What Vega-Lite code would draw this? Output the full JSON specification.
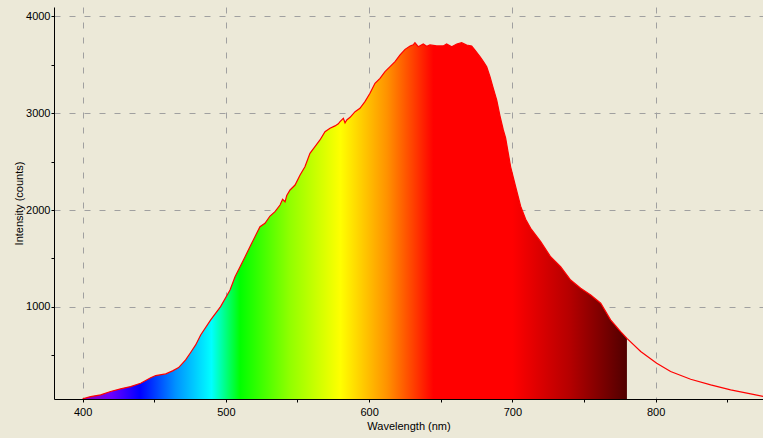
{
  "$schema": "https://vega.github.io/schema/vega-lite/v6.json",
  "width": 709,
  "height": 392,
  "autosize": {"type": "none"},
  "padding": {"left": 54, "top": 7, "right": 0, "bottom": 39},
  "background": "#ECE9D8",
  "config": {
    "view": {"stroke": null},
    "font": "Liberation Sans",
    "axis": {
      "domainColor": "#000000",
      "domainWidth": 1,
      "tickColor": "#000000",
      "tickSize": 3,
      "labelColor": "#000000",
      "labelFontSize": 11,
      "labelFont": "Liberation Sans",
      "titleFont": "Liberation Sans",
      "titleFontSize": 11,
      "titleFontWeight": "normal",
      "titleColor": "#000000",
      "gridColor": "#A0A0A0",
      "gridDash": [6, 9],
      "gridWidth": 1
    }
  },
  "data": {
    "values": [
      {"nm": 400, "counts": 52},
      {"nm": 405.6, "counts": 75},
      {"nm": 412.6, "counts": 93},
      {"nm": 419.5, "counts": 127},
      {"nm": 426.5, "counts": 155},
      {"nm": 433.5, "counts": 178},
      {"nm": 440.5, "counts": 213},
      {"nm": 447.5, "counts": 270},
      {"nm": 451, "counts": 292},
      {"nm": 458, "counts": 309},
      {"nm": 462.8, "counts": 340},
      {"nm": 467, "counts": 374},
      {"nm": 471.9, "counts": 453},
      {"nm": 475.4, "counts": 530},
      {"nm": 478.9, "counts": 608},
      {"nm": 482.4, "counts": 711},
      {"nm": 489.4, "counts": 866},
      {"nm": 496.3, "counts": 1003},
      {"nm": 502.9, "counts": 1175},
      {"nm": 506.4, "counts": 1312},
      {"nm": 509.9, "counts": 1415},
      {"nm": 513.4, "counts": 1518},
      {"nm": 516.8, "counts": 1622},
      {"nm": 520.3, "counts": 1725},
      {"nm": 523.8, "counts": 1828},
      {"nm": 527.3, "counts": 1863},
      {"nm": 530.8, "counts": 1938},
      {"nm": 534.3, "counts": 1983},
      {"nm": 537.8, "counts": 2052},
      {"nm": 539.6, "counts": 2110},
      {"nm": 541.3, "counts": 2085},
      {"nm": 542.5, "counts": 2150},
      {"nm": 544.8, "counts": 2207},
      {"nm": 548.3, "counts": 2258},
      {"nm": 551.8, "counts": 2361},
      {"nm": 555.2, "counts": 2447},
      {"nm": 558.7, "counts": 2585},
      {"nm": 562.2, "counts": 2654},
      {"nm": 565.7, "counts": 2723},
      {"nm": 569.2, "counts": 2808},
      {"nm": 572.7, "counts": 2843},
      {"nm": 576.2, "counts": 2868},
      {"nm": 578.5, "counts": 2890},
      {"nm": 579.7, "counts": 2912},
      {"nm": 582.0, "counts": 2947},
      {"nm": 583.2, "counts": 2900},
      {"nm": 584.4, "counts": 2929},
      {"nm": 586.7, "counts": 2957},
      {"nm": 590.2, "counts": 3015},
      {"nm": 593.6, "counts": 3050},
      {"nm": 597.1, "counts": 3118},
      {"nm": 600.6, "counts": 3205},
      {"nm": 604.1, "counts": 3308},
      {"nm": 607.6, "counts": 3359},
      {"nm": 611.1, "counts": 3428},
      {"nm": 614.6, "counts": 3479},
      {"nm": 618.1, "counts": 3531},
      {"nm": 621.6, "counts": 3600},
      {"nm": 625.1, "counts": 3658},
      {"nm": 628.6, "counts": 3693},
      {"nm": 630.8, "counts": 3705},
      {"nm": 632.0, "counts": 3727},
      {"nm": 634.3, "counts": 3685},
      {"nm": 637.8, "counts": 3713},
      {"nm": 640.2, "counts": 3690},
      {"nm": 642.5, "counts": 3703},
      {"nm": 647.2, "counts": 3693},
      {"nm": 651.8, "counts": 3693},
      {"nm": 654.1, "counts": 3713},
      {"nm": 657.7, "counts": 3685},
      {"nm": 661.2, "counts": 3713},
      {"nm": 664.6, "counts": 3727},
      {"nm": 668.1, "counts": 3703},
      {"nm": 671.6, "counts": 3693},
      {"nm": 673.9, "counts": 3651},
      {"nm": 677.4, "counts": 3582},
      {"nm": 679.8, "counts": 3531},
      {"nm": 682.1, "counts": 3479},
      {"nm": 684.4, "counts": 3376},
      {"nm": 686.7, "counts": 3256},
      {"nm": 689.1, "counts": 3135},
      {"nm": 691.4, "counts": 2970},
      {"nm": 693.7, "counts": 2826},
      {"nm": 695.3, "counts": 2745},
      {"nm": 698.8, "counts": 2446},
      {"nm": 702.3, "counts": 2240},
      {"nm": 705.8, "counts": 2040},
      {"nm": 709.3, "counts": 1905},
      {"nm": 712.8, "counts": 1811},
      {"nm": 719.8, "counts": 1673},
      {"nm": 726.7, "counts": 1518},
      {"nm": 733.7, "counts": 1415},
      {"nm": 740.7, "counts": 1278},
      {"nm": 747.7, "counts": 1192},
      {"nm": 754.7, "counts": 1124},
      {"nm": 761.7, "counts": 1038},
      {"nm": 768.6, "counts": 866},
      {"nm": 775.6, "counts": 745},
      {"nm": 780, "counts": 675},
      {"nm": 789.6, "counts": 540},
      {"nm": 800.8, "counts": 419},
      {"nm": 810.5, "counts": 333},
      {"nm": 824.5, "counts": 254},
      {"nm": 838.5, "counts": 196},
      {"nm": 852.4, "counts": 144},
      {"nm": 866.4, "counts": 103},
      {"nm": 875.5, "counts": 75}
    ]
  },
  "encoding": {
    "x": {
      "field": "nm",
      "type": "quantitative",
      "scale": {"domain": [380, 875], "nice": false, "zero": false},
      "axis": {
        "title": "Wavelength (nm)",
        "values": [400, 450, 500, 550, 600, 650, 700, 750, 800, 850],
        "format": "d",
        "labelExpr": "datum.value % 100 === 0 ? datum.label : ''",
        "gridOpacity": {"condition": {"test": "datum.value % 100 === 0", "value": 1}, "value": 0},
        "labelPadding": 4,
        "titlePadding": 3
      }
    },
    "y": {
      "field": "counts",
      "type": "quantitative",
      "scale": {"domain": [50, 4095], "nice": false, "zero": false},
      "axis": {
        "title": "Intensity (counts)",
        "values": [500, 1000, 1500, 2000, 2500, 3000, 3500, 4000],
        "format": "d",
        "labelExpr": "datum.value % 1000 === 0 ? datum.label : ''",
        "gridOpacity": {"condition": {"test": "datum.value % 1000 === 0", "value": 1}, "value": 0},
        "labelPadding": 1,
        "titlePadding": 1
      }
    }
  },
  "layer": [
    {
      "transform": [{"filter": "datum.nm <= 780"}],
      "mark": {
        "type": "area",
        "clip": true,
        "fillOpacity": 1,
        "fill": {
          "gradient": "linear",
          "x1": 0, "y1": 0, "x2": 1, "y2": 0,
          "stops": [
            {"offset": 0, "color": "#8300B5"},
            {"offset": 0.0263, "color": "#7E00DB"},
            {"offset": 0.0526, "color": "#6A00FF"},
            {"offset": 0.1053, "color": "#0000FF"},
            {"offset": 0.1711, "color": "#0092FF"},
            {"offset": 0.2368, "color": "#00FFFF"},
            {"offset": 0.2895, "color": "#00FF00"},
            {"offset": 0.3816, "color": "#92FF00"},
            {"offset": 0.4737, "color": "#FFFF00"},
            {"offset": 0.5592, "color": "#FF9200"},
            {"offset": 0.6447, "color": "#FF0000"},
            {"offset": 0.7895, "color": "#FF0000"},
            {"offset": 0.8947, "color": "#B50000"},
            {"offset": 1, "color": "#500000"}
          ]
        }
      }
    },
    {
      "mark": {"type": "line", "color": "#FF0000", "strokeWidth": 1.2, "clip": true}
    }
  ]
}
